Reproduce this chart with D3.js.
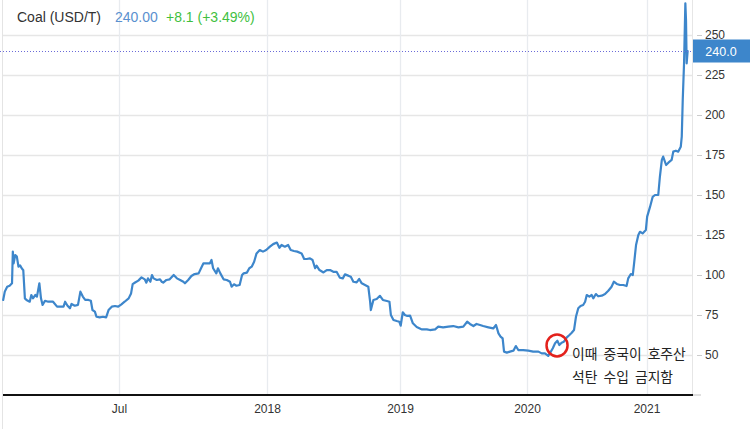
<!DOCTYPE html>
<html><head><meta charset="utf-8">
<script src="https://cdn.jsdelivr.net/npm/d3@7"></script>
<style>
html,body{margin:0;padding:0;background:#fff;}
svg{display:block;font-family:"Liberation Sans",Arial,sans-serif;}
</style></head>
<body>
<svg id="chart" width="750" height="429"></svg>
<script>
const dates = ["2017-02-07","2017-02-09","2017-02-12","2017-02-15","2017-02-18","2017-02-19","2017-02-20","2017-02-22","2017-02-24","2017-02-26","2017-02-28","2017-03-02","2017-03-04","2017-03-06","2017-03-08","2017-03-12","2017-03-14","2017-03-16","2017-03-19","2017-03-21","2017-03-24","2017-03-26","2017-03-28","2017-03-31","2017-04-04","2017-04-10","2017-04-15","2017-04-19","2017-04-23","2017-04-25","2017-04-28","2017-05-01","2017-05-03","2017-05-07","2017-05-11","2017-05-14","2017-05-17","2017-05-20","2017-05-24","2017-05-27","2017-05-29","2017-06-01","2017-06-03","2017-06-07","2017-06-11","2017-06-15","2017-06-18","2017-06-22","2017-06-26","2017-06-30","2017-07-04","2017-07-08","2017-07-13","2017-07-16","2017-07-18","2017-07-21","2017-07-25","2017-07-29","2017-08-02","2017-08-04","2017-08-06","2017-08-09","2017-08-11","2017-08-13","2017-08-17","2017-08-21","2017-08-23","2017-08-25","2017-08-29","2017-09-02","2017-09-07","2017-09-11","2017-09-15","2017-09-19","2017-09-21","2017-09-25","2017-09-29","2017-10-03","2017-10-08","2017-10-11","2017-10-14","2017-10-18","2017-10-22","2017-10-24","2017-10-26","2017-10-30","2017-11-01","2017-11-04","2017-11-08","2017-11-12","2017-11-16","2017-11-18","2017-11-21","2017-11-24","2017-11-28","2017-12-01","2017-12-03","2017-12-07","2017-12-10","2017-12-13","2017-12-16","2017-12-19","2017-12-23","2017-12-27","2017-12-31","2018-01-09","2018-01-18","2018-01-28","2018-02-04","2018-02-10","2018-02-19","2018-02-28","2018-03-07","2018-03-16","2018-03-25","2018-04-06","2018-04-13","2018-04-20","2018-04-29","2018-05-06","2018-05-13","2018-05-17","2018-05-25","2018-06-05","2018-06-14","2018-06-23","2018-07-02","2018-07-11","2018-07-20","2018-07-28","2018-08-03","2018-08-12","2018-08-19","2018-08-26","2018-09-04","2018-09-11","2018-09-18","2018-09-27","2018-10-06","2018-10-11","2018-10-13","2018-10-20","2018-10-29","2018-11-07","2018-11-15","2018-11-26","2018-12-03","2018-12-07","2018-12-14","2018-12-23","2018-12-30","2019-01-03","2019-01-09","2019-01-15","2019-01-22","2019-01-30","2019-02-07","2019-02-18","2019-02-27","2019-03-04","2019-03-19","2019-03-28","2019-04-12","2019-04-21","2019-05-05","2019-05-20","2019-06-03","2019-06-18","2019-07-02","2019-07-13","2019-07-21","2019-07-31","2019-08-09","2019-08-19","2019-08-28","2019-09-12","2019-09-26","2019-10-04","2019-10-11","2019-10-17","2019-10-23","2019-10-27","2019-11-04","2019-11-13","2019-11-23","2019-11-30","2019-12-07","2019-12-21","2020-01-05","2020-01-20","2020-02-05","2020-02-15","2020-02-25","2020-03-06","2020-03-11","2020-03-20","2020-03-27","2020-04-03","2020-04-09","2020-04-16","2020-04-23","2020-05-02","2020-05-10","2020-05-17","2020-05-24","2020-05-30","2020-06-06","2020-06-13","2020-06-21","2020-06-27","2020-07-02","2020-07-10","2020-07-17","2020-07-22","2020-07-30","2020-08-06","2020-08-17","2020-08-27","2020-09-06","2020-09-16","2020-09-23","2020-10-02","2020-10-12","2020-10-22","2020-11-01","2020-11-06","2020-11-14","2020-11-20","2020-11-24","2020-11-30","2020-12-07","2020-12-12","2020-12-20","2020-12-30","2021-01-03","2021-01-12","2021-01-20","2021-01-27","2021-02-06","2021-02-11","2021-02-17","2021-02-21","2021-03-02","2021-03-09","2021-03-19","2021-03-24","2021-04-01","2021-04-08","2021-04-16","2021-04-19","2021-04-22","2021-04-26","2021-04-30","2021-05-02","2021-05-04","2021-05-07"];
const prices = [84.4,89.6,92.7,93.3,94.8,114.6,107.3,112.5,111.5,105.2,106,104.2,103,85.4,84.4,83.3,87.5,85.4,87.5,86.5,94.8,85.4,81.3,83.9,83.3,83.3,80.2,80.2,80.2,83.3,80.8,79.2,81.9,80.8,81.3,89.6,86.5,84.4,84.4,83.9,78.1,77.1,73.9,73.5,73.9,73.5,78.1,80.2,80.6,80.2,81.7,83.3,85.4,88.5,94.3,95.3,96.5,98.5,97.3,95.2,97.9,95.8,100,97.9,96.9,97.3,95.8,95.2,96.9,97.3,100,97.9,96.9,95.8,94.8,96.9,99.4,100.6,101,104.2,107.3,107.3,107.3,109.4,104.2,101,104.2,101,97.3,96.9,95.8,92.7,94.2,93.3,93.75,100,101,101.5,104.2,105.2,108.3,113.5,115.6,114.6,115.6,117.7,119.3,120.3,117,118.75,117.7,118.75,115.6,115,114.6,113.5,110,110,110.4,109.4,104.2,105.8,103.1,101.6,103.1,103.1,102,102,98.3,97.9,100.4,99.6,98.9,95.8,95.4,97.5,94.8,93.75,92.7,83.3,78.1,84.4,85,87,84.4,83.75,83.3,75,71.9,71.25,70.8,68.3,76.7,75,74.4,74.6,69.8,67.5,66.6,66,66,65.6,66,67.7,67.3,67.7,68.1,67.3,67.7,70.8,69.4,68.1,69.4,68.75,68.1,67.3,66.6,68.75,63.5,61.5,60.4,52.1,51.5,52.1,52.7,55.6,53.1,53.1,52.7,52.1,52.1,51,51,49.4,51,54.2,57.3,58.9,56.25,57.7,58.3,61,62.5,63.9,65.6,73.9,79.2,80.6,81.25,83.3,87.5,86.5,87.5,85.4,88.1,86.7,87.1,88.1,90.2,92.7,95.8,94.4,93.75,93.75,93.1,97.9,100.6,100,107.3,118.75,125,127,126,128.1,136.5,142.7,148.9,150,150,161.4,171.9,174,168.75,170.2,171.9,177.1,177.7,177.1,180.2,186.5,209.4,232.3,269.8,259.4,232.3,240];
const xTickDates = ["2017-07-01","2018-01-01","2019-01-01","2020-01-01","2021-01-01"];
const xTickLabels = ["Jul","2018","2019","2020","2021"];
const yTicks = [50,75,100,125,150,175,200,225,250];
const title = "Coal (USD/T)";
const lastPrice = "240.00";
const change = "+8.1 (+3.49%)";
const lastValue = 240;
const noteDate = "2020-04-02", noteValue = 56;
const noteLines = ["이때 중국이 호주산","석탄 수입 금지함"];

const parse = d3.utcParse("%Y-%m-%d");
const data = dates.map((d,i)=>({date:parse(d), value:prices[i]}));

const svg = d3.select("#chart");
const plotL = 3, plotR = 692, plotB = 395, plotT = 0;

// trading-time x scale: piecewise between period starts
const x = d3.scaleUtc()
  .domain(xTickDates.map(parse))
  .range([119, 267, 400, 527, 646.5]);
const y = d3.scaleLinear().domain([50,250]).range([355,35]);

// left border
svg.append("line").attr("x1",2.5).attr("x2",2.5).attr("y1",0).attr("y2",429)
  .attr("stroke","#e4e4e4").attr("stroke-width",1);
// right border
svg.append("line").attr("x1",plotR+0.5).attr("x2",plotR+0.5).attr("y1",0).attr("y2",plotB)
  .attr("stroke","#e6e6e6").attr("stroke-width",1);

// horizontal grid
svg.append("g").selectAll("line").data(yTicks).join("line")
  .attr("x1",plotL).attr("x2",plotR)
  .attr("y1",d=>Math.round(y(d))+0.5).attr("y2",d=>Math.round(y(d))+0.5)
  .attr("stroke","#e6e6e6").attr("stroke-width",1.3);

// vertical grid
svg.append("g").selectAll("line").data(xTickDates.map(parse)).join("line")
  .attr("x1",d=>Math.round(x(d))+0.5).attr("x2",d=>Math.round(x(d))+0.5)
  .attr("y1",plotT).attr("y2",plotB)
  .attr("stroke","#e8ebef").attr("stroke-width",1.3);

// x axis
const xAxis = d3.axisBottom(x).tickValues(xTickDates.map(parse))
  .tickFormat((d,i)=>xTickLabels[i]).tickSize(0).tickPadding(9);
const gx = svg.append("g").attr("transform",`translate(0,${plotB})`).call(xAxis);
gx.select(".domain").remove();
gx.selectAll("text").attr("fill","#333").style("font-size","12px")
  .style("font-family","'Liberation Sans',Arial,sans-serif");
svg.append("line").attr("x1",plotL).attr("x2",plotR+1).attr("y1",plotB).attr("y2",plotB)
  .attr("stroke","#111").attr("stroke-width",2);
svg.append("line").attr("x1",plotR+1).attr("x2",701).attr("y1",plotB).attr("y2",plotB)
  .attr("stroke","#e0e0e0").attr("stroke-width",2);

// y axis (right)
const yAxis = d3.axisRight(y).tickValues(yTicks).tickSize(5).tickPadding(3);
const gy = svg.append("g").attr("transform",`translate(697,0)`).call(yAxis);
gy.select(".domain").remove();
gy.selectAll(".tick line").attr("stroke","#ccc");
gy.selectAll("text").attr("fill","#333").style("font-size","12px")
  .style("font-family","'Liberation Sans',Arial,sans-serif");

// price line
const line = d3.line().x(d=>x(d.date)).y(d=>y(d.value)).curve(d3.curveLinear);
svg.append("path").datum(data).attr("d",line)
  .attr("fill","none").attr("stroke","#3d86cb").attr("stroke-width",2.2)
  .attr("stroke-linejoin","round").attr("stroke-linecap","round");

// last value dotted line
svg.append("line").attr("x1",0).attr("x2",plotR+1)
  .attr("y1",Math.round(y(lastValue))+0.5).attr("y2",Math.round(y(lastValue))+0.5)
  .attr("stroke","#6b6bd8").attr("stroke-width",1).attr("stroke-dasharray","1,2");
svg.append("rect").attr("x",plotR+1).attr("y",y(lastValue)-11.5).attr("width",57).attr("height",23)
  .attr("fill","#3d86cb");
svg.append("text").attr("x",721).attr("y",y(lastValue)).attr("dy","0.36em")
  .attr("text-anchor","middle").attr("fill","#fff").style("font-size","12.5px")
  .text(d3.format(".1f")(lastValue));

// header
const hdr = svg.append("text").attr("x",17).attr("y",22).style("font-size","14px");
hdr.append("tspan").attr("fill","#333").text(title);
hdr.append("tspan").attr("x",115).attr("fill","#5a90cf").text(lastPrice);
hdr.append("tspan").attr("x",166).attr("fill","#3fbf3f").text(change);

// annotation
const cx = x(parse(noteDate)), cy = y(noteValue);
svg.append("ellipse").attr("cx",cx).attr("cy",cy).attr("rx",10.5).attr("ry",11)
  .attr("fill","none").attr("stroke","#e3211c").attr("stroke-width",2.5);
svg.append("g").selectAll("text").data(noteLines).join("text")
  .attr("x",cx+15).attr("y",(d,i)=>cy+8.5+i*23.5).attr("dy","0.35em")
  .attr("fill","#222").style("font-size","13.8px").style("word-spacing","3px")
  .style("font-family","'Noto Sans CJK KR','Noto Sans CJK SC',sans-serif")
  .text(d=>d);
</script>
</body></html>
